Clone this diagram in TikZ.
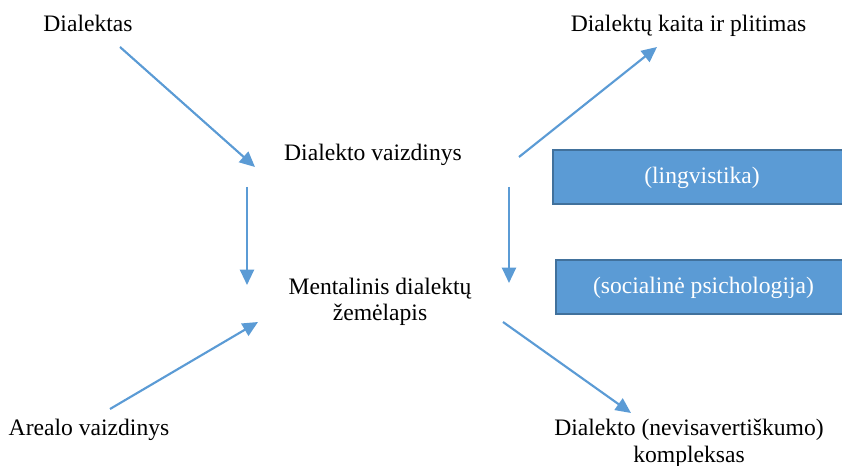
\documentclass[tikz,border=0pt]{standalone}
\usepackage{fontspec}
\setmainfont{Liberation Serif}
\usetikzlibrary{arrows.meta}
\definecolor{accentblue}{HTML}{5B9BD5}
\definecolor{edgeblue}{HTML}{41719C}
\tikzset{
  label text/.style={font=\fontsize{17.7}{19.6}\selectfont, inner sep=0pt, align=center},
  flow/.style={draw=accentblue, line width=1.6pt,
    -{Triangle[length=11.5pt,width=10.5pt]}},
  fieldbox/.style={draw=edgeblue, fill=accentblue, line width=1pt},
  field text/.style={label text, text=white}
}
\begin{document}
\begin{tikzpicture}[x=0.75pt, y=-0.75pt]
  \useasboundingbox (0,0) rectangle (842,466);
  \clip (0,0) rectangle (842,466);

  % text labels (anchored on the baseline of their last line)
  \node[label text, anchor=base] (dial) at (88,32) {Dialektas};
  \node[label text, anchor=base] (vaizd) at (373,161) {Dialekto vaizdinys};
  \node[label text, anchor=base] (kaita) at (688.5,32) {Dialektų kaita ir plitimas};
  \node[label text, anchor=base] (ment) at (380,321) {Mentalinis dialektų\\žemėlapis};
  \node[label text, anchor=base] (areal) at (89,435) {Arealo vaizdinys};
  \node[label text, anchor=base] (kompl) at (689,462) {Dialekto (nevisavertiškumo)\\kompleksas};

  % discipline boxes, running off the right edge
  \draw[fieldbox] (553,150) rectangle (850,204);
  \node[field text, anchor=base] (ling) at (702,184) {(lingvistika)};
  \draw[fieldbox] (556,260) rectangle (850,314);
  \node[field text, anchor=base] (soc) at (703.5,294) {(socialinė psichologija)};

  % arrow end points
  \coordinate (a1s) at (120,47);  \coordinate (a1e) at (255,167);
  \coordinate (a2s) at (247,187); \coordinate (a2e) at (247,285);
  \coordinate (a3s) at (110,409); \coordinate (a3e) at (258,322);
  \coordinate (a4s) at (519,157); \coordinate (a4e) at (657,47);
  \coordinate (a5s) at (509,187); \coordinate (a5e) at (509,283);
  \coordinate (a6s) at (503,322); \coordinate (a6e) at (631,413);

  \draw[flow] (a1s) -- (a1e);
  \draw[flow] (a2s) -- (a2e);
  \draw[flow] (a3s) -- (a3e);
  \draw[flow] (a4s) -- (a4e);
  \draw[flow] (a5s) -- (a5e);
  \draw[flow] (a6s) -- (a6e);
\end{tikzpicture}
\end{document}
